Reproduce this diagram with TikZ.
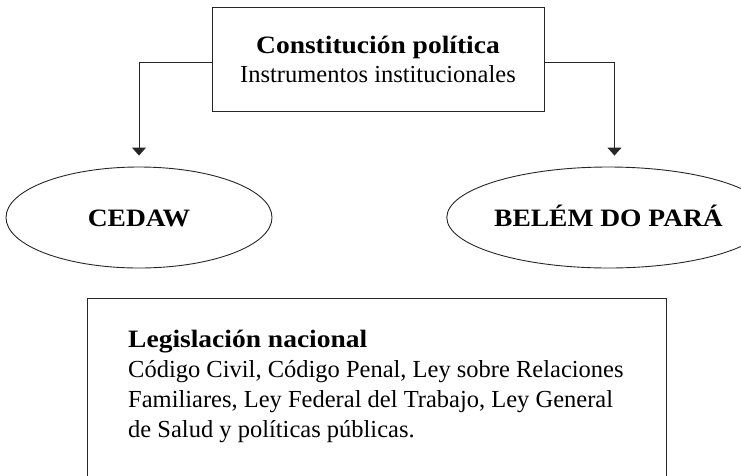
\documentclass[tikz,border=0pt]{standalone}
\usepackage{fontspec}
\setmainfont[BoldFeatures={FakeStretch=1.1}]{Liberation Serif}
\usetikzlibrary{arrows.meta,shapes.geometric}
\tikzset{
  ln/.style={draw=black!85, line width=0.9pt},
  topbox/.style={ln, rectangle, minimum width=332pt, minimum height=104pt, inner sep=0pt, align=center},
  oval/.style={ln, ellipse, inner sep=0pt, text height=17pt, text depth=0pt,
               font=\fontsize{25}{28}\selectfont\bfseries},
  conn/.style={ln, -{Triangle[width=14pt,length=8pt]}, shorten >=11pt},
  regfont/.style={font=\fontsize{24.5}{30}\selectfont}
}
\begin{document}
\begin{tikzpicture}[x=1pt,y=-1pt]
\useasboundingbox (0,0) rectangle (741,475);
\node[topbox, regfont] (top) at (378,59)
  {{\fontsize{25}{28}\selectfont\bfseries Constitución política}\\[-1pt]
   Instrumentos institucionales};
\node[oval, minimum width=266pt, minimum height=101pt] (cedaw) at (139,217.5) {CEDAW};
\node[oval, minimum width=261pt, minimum height=101pt] (belem) at (608.5,217.5) {BELÉM DO PARÁ};
\draw[conn] ([yshift=-3pt]top.west) -| (cedaw.north);
\draw[conn] ([yshift=-3pt]top.east) -| ([xshift=6pt]belem.north);
% bottom box (open at the lower edge)
\coordinate (bl) at (87,476);
\coordinate (tl) at (87,298);
\coordinate (tr) at (666,298);
\coordinate (br) at (666,476);
\draw[ln] (bl) -- (tl) -- (tr) -- (br);
\node[regfont, anchor=north west, inner sep=0pt, align=left] (leg) at (128,329.5)
  {{\fontsize{25}{30}\selectfont\bfseries Legislación nacional}\\
   Código Civil, Código Penal, Ley sobre Relaciones\\
   Familiares, Ley Federal del Trabajo, Ley General\\
   de Salud y políticas públicas.};
\end{tikzpicture}
\end{document}
